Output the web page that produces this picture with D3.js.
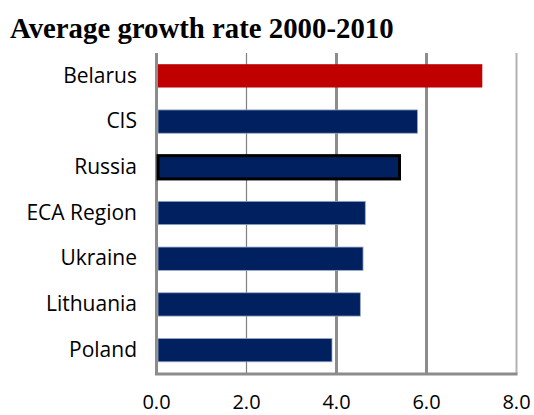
<!DOCTYPE html>
<html>
<head>
<meta charset="utf-8">
<script src="https://cdn.jsdelivr.net/npm/d3@7"></script>
<style>
  html, body { margin: 0; padding: 0; background: #fff; }
  svg { display: block; }
</style>
</head>
<body>
<svg id="chart" width="534" height="415"></svg>
<script>
// Average annual growth, 2000-2010 (%)
const countries = ["Belarus", "CIS", "Russia", "ECA Region", "Ukraine", "Lithuania", "Poland"];
const growth = [7.24, 5.8, 5.4, 4.64, 4.59, 4.53, 3.9];
const tickValues = [0, 2, 4, 6, 8];
const tickLabels = ["0.0", "2.0", "4.0", "6.0", "8.0"];

const svg = d3.select("#chart");
const plot = { left: 156.5, right: 516.5, top: 53, bottom: 374 };

const x = d3.scaleLinear().domain([0, 8]).range([plot.left, plot.right]);
const y = d3.scaleBand().domain(countries).range([plot.top, plot.bottom - 1]).paddingInner(0.49).paddingOuter(0.245);

// title
svg.append("text")
  .attr("x", 10).attr("y", 38)
  .attr("font-family", "Liberation Serif, Times New Roman, serif")
  .attr("font-weight", "bold")
  .attr("font-size", 28.8)
  .attr("fill", "#000")
  .text("Average growth rate 2000-2010");

// vertical gridlines, each with its own weight
const gridStyle = { 0: [3, "#8c8c8c"], 2: [1.2, "#7f7f7f"], 4: [3, "#8c8c8c"], 6: [3, "#8c8c8c"], 8: [2, "#b3b3b3"] };
svg.append("g").selectAll("line").data(tickValues).join("line")
  .attr("x1", d => x(d)).attr("x2", d => x(d))
  .attr("y1", plot.top).attr("y2", plot.bottom)
  .attr("stroke", d => gridStyle[d][1])
  .attr("stroke-width", d => gridStyle[d][0]);

// bottom axis line
svg.append("line")
  .attr("x1", plot.left - 1.5).attr("x2", plot.right + 1)
  .attr("y1", plot.bottom).attr("y2", plot.bottom)
  .attr("stroke", "#8c8c8c").attr("stroke-width", 3);

// bars
const data = countries.map((c, i) => ({ c, v: growth[i] }));
svg.append("g").selectAll("rect").data(data).join("rect")
  .attr("x", x(0) + 1.5)
  .attr("y", d => y(d.c))
  .attr("width", d => x(d.v) - x(0) - 1.5)
  .attr("height", y.bandwidth())
  .attr("fill", d => d.c === "Belarus" ? "#c00000" : "#002060")
  .attr("stroke", d => d.c === "Russia" ? "#000" : (d.c === "Belarus" ? "none" : "#9aa8c4"))
  .attr("stroke-width", d => d.c === "Russia" ? 3 : 0.8);

// category labels
svg.append("g").selectAll("text").data(countries).join("text")
  .attr("x", 137)
  .attr("y", d => y(d) + y.bandwidth() / 2)
  .attr("dy", "0.32em")
  .attr("text-anchor", "end")
  .attr("font-family", "Open Sans, sans-serif")
  .attr("font-size", 21)
  .attr("fill", "#000")
  .text(d => d);

// x tick labels
svg.append("g").selectAll("text").data(tickValues).join("text")
  .attr("x", d => x(d))
  .attr("y", 409)
  .attr("text-anchor", "middle")
  .attr("font-family", "Open Sans, sans-serif")
  .attr("font-size", 20)
  .attr("fill", "#000")
  .text((d, i) => tickLabels[i]);
</script>
</body>
</html>
